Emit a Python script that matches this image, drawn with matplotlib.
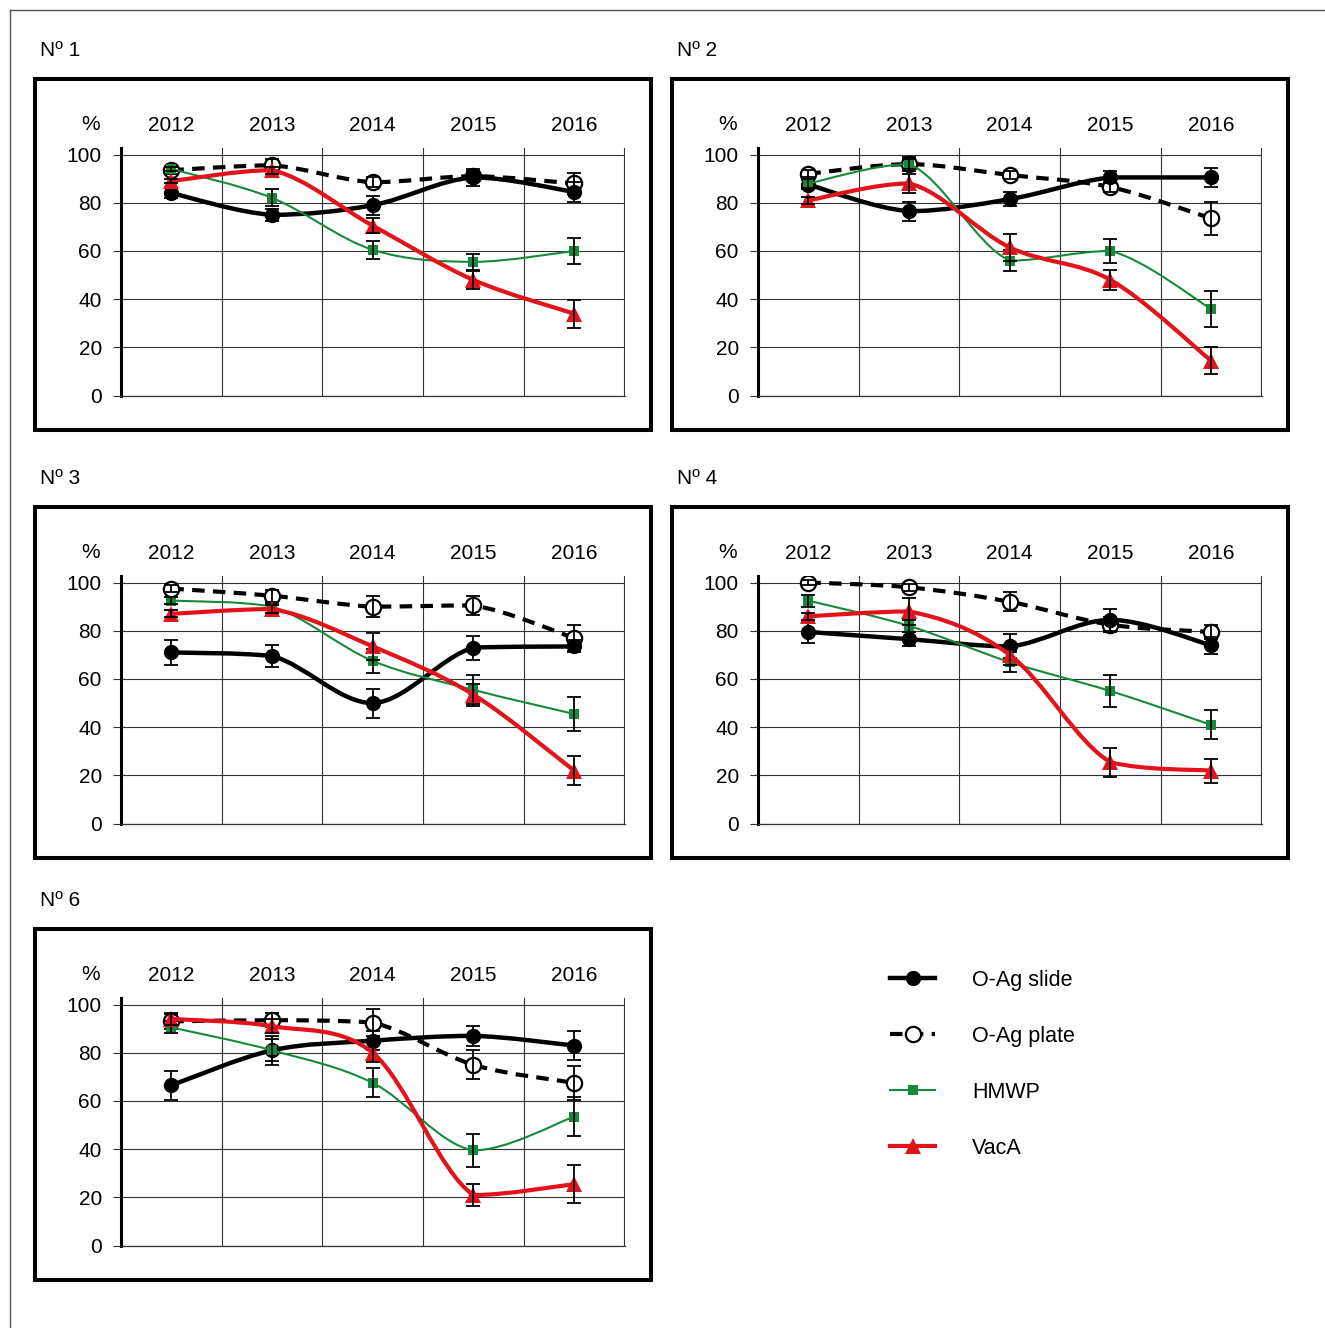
import numpy as np
import matplotlib
matplotlib.use('Agg')
import matplotlib.pyplot as plt
from matplotlib.path import Path
from matplotlib.patches import PathPatch, Rectangle
from matplotlib.lines import Line2D

W, H = 1325, 1328
plt.rcParams['font.family'] = ['Liberation Sans', 'DejaVu Sans']

YEARS = ['2012', '2013', '2014', '2015', '2016']
TITLES = ['Nº 1', 'Nº 2', 'Nº 3', 'Nº 4', 'Nº 6']
LABELS = ['O-Ag slide', 'O-Ag plate', 'HMWP', 'VacA']

# one row per panel (Nº 1, 2, 3, 4, 6), one value per year
SLIDE = [[84, 75, 79, 90.5, 84.5],
         [87.5, 76.5, 81.5, 90.5, 90.5],
         [71, 69.5, 50, 73, 73.5],
         [79.5, 76.5, 73.5, 84.5, 74],
         [66.5, 81, 85, 87, 83]]
SLIDE_ERR = [[2, 2.5, 4, 3.5, 4],
             [2, 4, 3, 2.5, 4],
             [5, 4.5, 6, 5, 2.5],
             [4.5, 3, 5, 4.5, 3.5],
             [6, 4.5, 4, 4, 6]]

PLATE = [[93.5, 95.5, 88.5, 91, 88],
         [92, 96, 91.5, 86.5, 73.5],
         [97.5, 94.5, 90, 90.5, 77],
         [100, 98, 92, 82.5, 79.5],
         [93, 93.5, 92.5, 75, 67.5]]
PLATE_ERR = [[1.5, 2.5, 2, 2, 4.5],
             [1.5, 3, 1.5, 2, 7],
             [1.5, 2.5, 4.5, 4, 5.5],
             [1, 1.5, 4, 3, 3],
             [3, 3, 5.5, 6, 7]]

HMWP = [[94, 82, 60.5, 55.5, 60],
        [88, 96, 56, 60, 36],
        [92.5, 90, 67.5, 55.5, 45.5],
        [92.5, 82, 67, 55, 41],
        [90.5, 81, 67.5, 39.5, 53.5]]
HMWP_ERR = [[1, 3.5, 3.8, 3.3, 5.5],
            [2, 2, 4.5, 5, 7.5],
            [1.5, 1.5, 5, 6, 7],
            [2.5, 2.5, 4, 6.5, 6],
            [2.5, 6, 6, 7, 8]]

VACA = [[89, 93.5, 70.5, 48, 34],
        [81, 88, 61.5, 48, 14.5],
        [87, 89, 73.5, 53.5, 22],
        [86, 88, 70, 25.5, 22],
        [94, 91, 80, 21, 25.5]]
VACA_ERR = [[1, 1.5, 3, 3.7, 5.8],
            [1.5, 4, 5.5, 4, 5.5],
            [1.5, 1.5, 5.5, 4.5, 6],
            [1.5, 5.5, 4, 6, 5],
            [2.5, 3, 4, 4.5, 8]]

GREEN = '#17893a'
RED = '#e2131b'
GRID = '#333333'

# frame top-left corners in pixels
ORIGINS = [(35, 79), (672, 79), (35, 507), (672, 507), (35, 929)]


def fx(px):
    return px / W


def fy(py):
    return 1 - py / H


def smooth_path(xs, ys):
    """Smoothed line through the points (Catmull-Rom as Bezier),
    control points kept inside each segment's y-range so it doesn't overshoot."""
    pts = np.column_stack([xs, ys]).astype(float)
    n = len(pts)
    verts = [pts[0]]
    codes = [Path.MOVETO]
    for i in range(n - 1):
        p0 = pts[max(i - 1, 0)]
        p1 = pts[i]
        p2 = pts[i + 1]
        p3 = pts[min(i + 2, n - 1)]
        c1 = p1 + (p2 - p0) / 6
        c2 = p2 - (p3 - p1) / 6
        lo, hi = min(p1[1], p2[1]), max(p1[1], p2[1])
        c1[1] = np.clip(c1[1], lo, hi)
        c2[1] = np.clip(c2[1], lo, hi)
        verts += [c1, c2, p2]
        codes += [Path.CURVE4] * 3
    return Path(verts, codes)


STYLES = [
    dict(color='black', lw=3.2, ls='-', marker='o', ms=10, mfc='black', mew=1),
    dict(color='black', lw=3.0, ls=(0, (3, 2)), marker='o', ms=11, mfc='white', mew=1.6),
    dict(color=GREEN, lw=1.5, ls='-', marker='s', ms=6.5, mfc=GREEN, mew=0),
    dict(color=RED, lw=3.0, ls='-', marker='^', ms=11, mfc=RED, mew=0),
]


def draw_panel(fig, k):
    l, t = ORIGINS[k]
    fig.add_artist(Rectangle((fx(l), fy(t + 351)), 616 / W, 351 / H,
                             transform=fig.transFigure, fill=False,
                             lw=2.9, ec='black'))
    fig.text(fx(l + 5), fy(t - 29), TITLES[k], fontsize=15, va='center')
    fig.text(fx(l + 56), fy(t + 45), '%', fontsize=15, va='center', ha='center')

    ah = 247.7
    ax = fig.add_axes([fx(l + 86), fy(t + 69 + ah), 504 / W, ah / H])
    ax.set_xlim(0.5, 5.505)
    ax.set_ylim(0, 102.7)
    x = np.arange(1, 6)

    ax.set_xticks(x)
    ax.set_xticklabels(YEARS)
    ax.set_xticks(np.arange(0.5, 5.6, 1), minor=True)
    ax.xaxis.tick_top()
    ax.tick_params(axis='x', which='both', length=0, pad=9.5, labelsize=15)
    ax.set_yticks(range(0, 101, 20))
    ax.tick_params(axis='y', length=5.8, width=0.8, color=GRID, pad=8, labelsize=15)
    ax.grid(axis='x', which='minor', color=GRID, lw=0.8)
    ax.grid(axis='y', which='major', color=GRID, lw=0.8)
    ax.set_axisbelow(True)
    for s in ['top', 'right']:
        ax.spines[s].set_visible(False)
    ax.spines['left'].set_linewidth(2.2)
    ax.spines['bottom'].set_linewidth(0.9)
    ax.spines['bottom'].set_color(GRID)

    series = [(PLATE, PLATE_ERR, 1), (SLIDE, SLIDE_ERR, 0),
              (HMWP, HMWP_ERR, 2), (VACA, VACA_ERR, 3)]
    for z, (vals, errs, si) in enumerate(series):
        st = STYLES[si]
        y = vals[k]
        zo = 3 + z
        ax.add_patch(PathPatch(smooth_path(x, y), fill=False, ec=st['color'],
                               lw=st['lw'], ls=st['ls'], capstyle='butt',
                               zorder=zo))
        ax.plot(x, y, ls='none', marker=st['marker'], ms=st['ms'],
                mfc=st['mfc'], mec=st['color'], mew=st['mew'], zorder=zo + 0.1)
        ax.errorbar(x, y, yerr=errs[k], fmt='none', ecolor='black',
                    elinewidth=1.3, capsize=5, capthick=1.3, zorder=zo + 0.2)


fig = plt.figure(figsize=(W / 100, H / 100), dpi=100)

# outer border (left and top)
fig.add_artist(Line2D([fx(10), fx(10)], [0, fy(10)], color='#555555', lw=1.0,
                      transform=fig.transFigure))
fig.add_artist(Line2D([fx(10), 1], [fy(10), fy(10)], color='#555555', lw=1.0,
                      transform=fig.transFigure))

for k in range(5):
    draw_panel(fig, k)

handles = [Line2D([], [], color=st['color'], lw=st['lw'], ls=st['ls'],
                  marker=st['marker'], ms=st['ms'], mfc=st['mfc'],
                  mec=st['color'], mew=st['mew']) for st in STYLES]
fig.legend(handles, LABELS, loc='upper left',
           bbox_to_anchor=(fx(890), fy(970)), frameon=False, fontsize=15.5,
           handlelength=2.1, handletextpad=1.7, labelspacing=1.62,
           borderpad=0, borderaxespad=0, numpoints=1)

fig.savefig('out.png', dpi=100)
